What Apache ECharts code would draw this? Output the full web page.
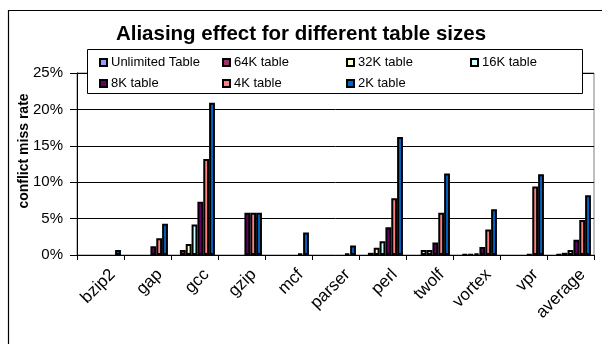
<!DOCTYPE html>
<html>
<head>
<meta charset="utf-8">
<script src="https://cdn.jsdelivr.net/npm/echarts@6/dist/echarts.min.js"></script>
<style>
  html, body { margin: 0; padding: 0; background: #fff; }
  #chart { width: 602px; height: 344px; }
</style>
</head>
<body>
<div id="chart"></div>
<script>
// Benchmarks on the category axis
const categories = ['bzip2', 'gap', 'gcc', 'gzip', 'mcf', 'parser', 'perl', 'twolf', 'vortex', 'vpr', 'average'];

// Conflict miss rate (%) per table size
const unlimitedTable = [0, 0, 0, 0, 0, 0, 0, 0, 0, 0, 0];
const table64K = [0, 0, 0.7, 0, 0, 0, 0.3, 0, 0.1, 0, 0.1];
const table32K = [0, 0, 1.5, 0, 0, 0, 1.0, 0.7, 0.1, 0, 0.3];
const table16K = [0, 0, 4.2, 0, 0, 0, 1.9, 0.7, 0.2, 0, 0.7];
const table8K  = [0, 1.2, 7.3, 5.8, 0, 0, 3.8, 1.7, 1.1, 0.1, 2.1];
const table4K  = [0, 2.3, 13.2, 5.8, 0.2, 0.2, 7.8, 5.8, 3.5, 9.4, 4.8];
const table2K  = [0.7, 4.3, 20.9, 5.8, 3.1, 1.3, 16.2, 11.2, 6.3, 11.1, 8.2];

const seriesNames = ['Unlimited Table', '64K table', '32K table', '16K table', '8K table', '4K table', '2K table'];
const seriesValues = [unlimitedTable, table64K, table32K, table16K, table8K, table4K, table2K];
const seriesColors = ['#9999FF', '#993366', '#FFFFCC', '#CCFFFF', '#660066', '#FF8080', '#0066CC'];

// Y axis ticks (percent)
const yMin = 0, yMax = 25, yStep = 5;

const FONT = '"Liberation Sans", Arial, sans-serif';

// Legend laid out as a 4-column grid inside a framed box
const legendCols = [99, 222, 346, 470];
const legendRows = [56, 77];
const legends = seriesNames.map((name, i) => ({
  data: [name],
  left: legendCols[i % 4],
  top: legendRows[Math.floor(i / 4)],
  padding: 0,
  itemWidth: 7,
  itemHeight: 7,
  itemGap: 0,
  icon: 'rect',
  selectedMode: false,
  z: 20,
  textStyle: { fontFamily: FONT, fontSize: 13, color: '#000', padding: [0, 0, 0, -1] }
}));

// zero-height bars get no outline so the baseline stays thin
const barData = (vals) => vals.map(v => (v === 0 ? { value: v, itemStyle: { borderWidth: 0 } } : v));

const chart = echarts.init(document.getElementById('chart'), null, { renderer: 'canvas' });

chart.setOption({
  animation: false,
  backgroundColor: '#fff',
  title: {
    text: 'Aliasing effect for different table sizes',
    left: 'center',
    top: 24,
    padding: 0,
    textStyle: { fontFamily: FONT, fontSize: 20.5, fontWeight: 'bold', color: '#000' }
  },
  legend: legends,
  grid: {
    left: 77, right: 8, top: 73, bottom: 89,
    show: true, borderColor: '#808080', borderWidth: 1, backgroundColor: 'transparent'
  },
  xAxis: {
    type: 'category',
    data: categories,
    axisLine: { lineStyle: { color: '#000', width: 1 } },
    axisTick: { show: true, length: 5, inside: false, alignWithLabel: false, lineStyle: { color: '#000' } },
    axisLabel: { interval: 0, rotate: 45, margin: 29, padding: [0, -17, 0, 0],
                 fontFamily: FONT, fontSize: 17, color: '#000' },
    splitLine: { show: false }
  },
  yAxis: {
    type: 'value',
    min: yMin, max: yMax, interval: yStep,
    axisLine: { show: true, lineStyle: { color: '#000', width: 1 } },
    axisTick: { show: true, length: 7, inside: false, lineStyle: { color: '#000' } },
    axisLabel: { formatter: '{value}%', margin: 14, fontFamily: FONT, fontSize: 15, color: '#000' },
    splitLine: { show: true, lineStyle: { color: '#000', width: 1 } }
  },
  graphic: [
    // chart frame (top and left edges fall inside the view)
    { type: 'rect', z: 1, silent: true,
      shape: { x: 8.5, y: 10.5, width: 700, height: 400 },
      style: { fill: 'none', stroke: '#000', lineWidth: 1.2 } },
    // legend frame
    { type: 'rect', z: 15, silent: true,
      shape: { x: 87.5, y: 49.5, width: 495, height: 44 },
      style: { fill: '#fff', stroke: '#000', lineWidth: 1 } },
    // value axis title
    { type: 'text', z: 5, silent: true,
      x: 24, y: 151, rotation: Math.PI / 2,
      style: { text: 'conflict miss rate', fontFamily: FONT, fontSize: 14, fontWeight: 'bold',
               fill: '#000', align: 'center', verticalAlign: 'middle' } }
  ],
  series: seriesNames.map((name, i) => ({
    name: name,
    type: 'bar',
    data: barData(seriesValues[i]),
    barGap: '0%',
    barCategoryGap: '13%',
    itemStyle: { color: seriesColors[i], borderColor: '#000', borderWidth: 2 }
  }))
});
</script>
</body>
</html>
